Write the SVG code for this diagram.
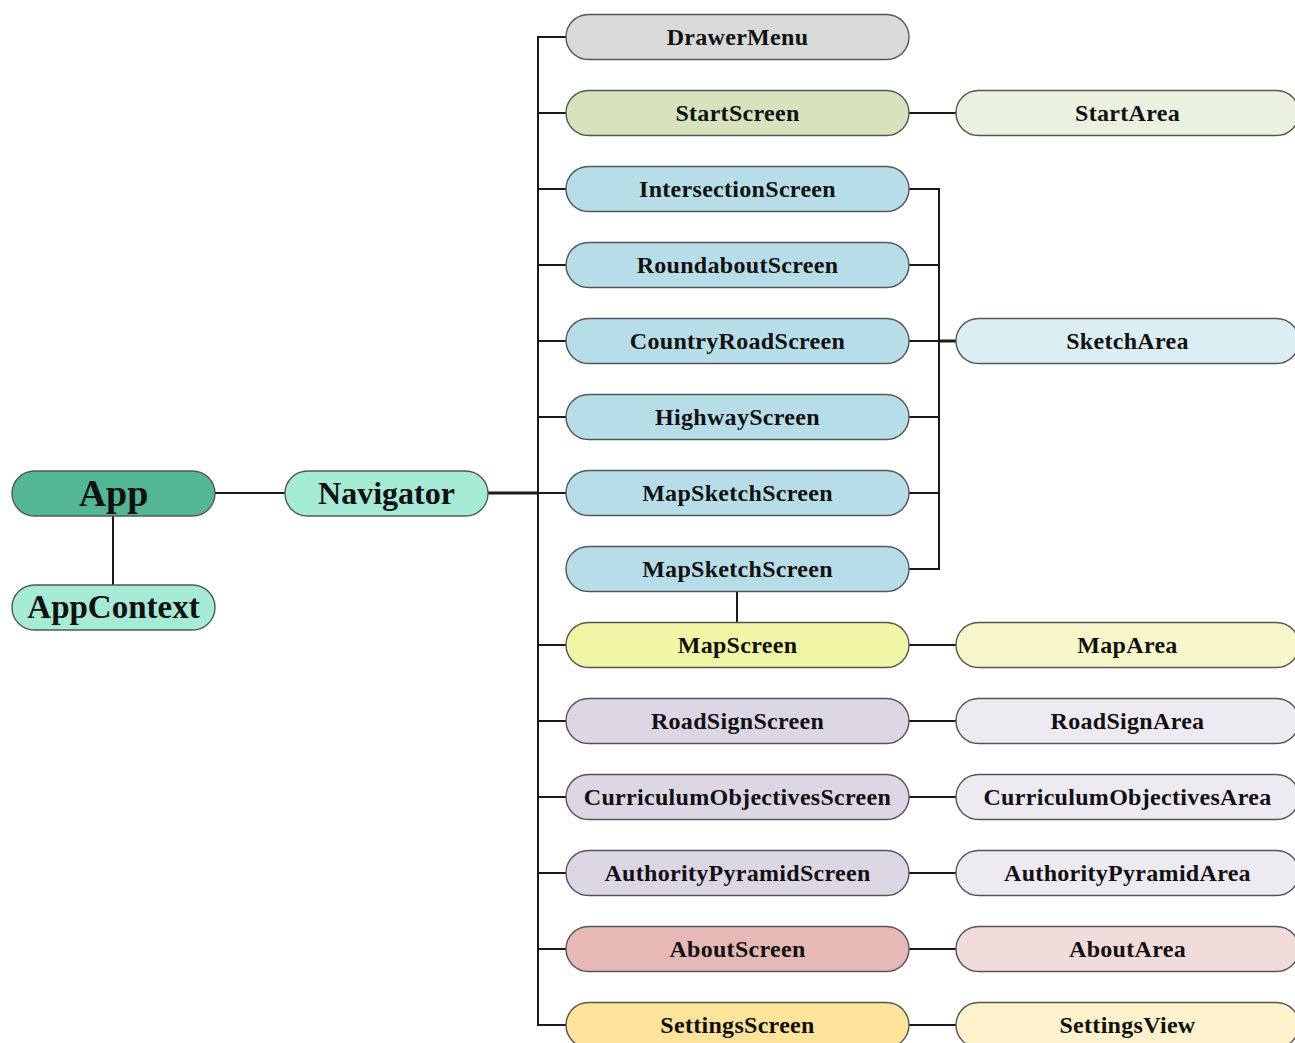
<svg xmlns="http://www.w3.org/2000/svg" width="1295" height="1043" viewBox="0 0 1295 1043">
  <style>
    .node rect { stroke: #555555; stroke-width: 1.4; }
    .node text { font-family: "Liberation Serif", "Times New Roman", serif; font-weight: bold; fill: #111111; text-anchor: middle; }
    .lbl { font-size: 24px; letter-spacing: 0.3px; }
    .wire { stroke: #1a1a1a; stroke-width: 2; fill: none; }
    .thick { stroke-width: 3; }
  </style>
  <rect width="1295" height="1043" fill="#ffffff"/>

  <!-- connectors -->
  <g id="connectors">
    <!-- App to Navigator and AppContext -->
    <line class="wire" x1="215" y1="493" x2="285" y2="493"/>
    <line class="wire" x1="113" y1="516" x2="113" y2="585"/>
    <!-- Navigator to main trunk -->
    <line class="wire thick" x1="488" y1="493" x2="538" y2="493"/>
    <!-- main trunk with branches to each screen -->
    <path class="wire" d="M566 37 H538 V1025 H566"/>
    <line class="wire" x1="538" y1="113" x2="566" y2="113"/>
    <line class="wire" x1="538" y1="189" x2="566" y2="189"/>
    <line class="wire" x1="538" y1="265" x2="566" y2="265"/>
    <line class="wire" x1="538" y1="341" x2="566" y2="341"/>
    <line class="wire" x1="538" y1="417" x2="566" y2="417"/>
    <line class="wire" x1="538" y1="493" x2="566" y2="493"/>
    <line class="wire" x1="538" y1="645" x2="566" y2="645"/>
    <line class="wire" x1="538" y1="721" x2="566" y2="721"/>
    <line class="wire" x1="538" y1="797" x2="566" y2="797"/>
    <line class="wire" x1="538" y1="873" x2="566" y2="873"/>
    <line class="wire" x1="538" y1="949" x2="566" y2="949"/>
    <!-- sketch screens bus to SketchArea -->
    <path class="wire" d="M909 189 H939 V569 H909"/>
    <line class="wire" x1="909" y1="265" x2="939" y2="265"/>
    <line class="wire" x1="909" y1="341" x2="939" y2="341"/>
    <line class="wire" x1="909" y1="417" x2="939" y2="417"/>
    <line class="wire" x1="909" y1="493" x2="939" y2="493"/>
    <line class="wire thick" x1="939" y1="341" x2="956" y2="341"/>
    <!-- MapSketchScreen to MapScreen -->
    <line class="wire" x1="737" y1="592" x2="737" y2="622"/>
    <!-- screens to their areas -->
    <line class="wire" x1="909" y1="113" x2="956" y2="113"/>
    <line class="wire" x1="909" y1="645" x2="956" y2="645"/>
    <line class="wire" x1="909" y1="721" x2="956" y2="721"/>
    <line class="wire" x1="909" y1="797" x2="956" y2="797"/>
    <line class="wire" x1="909" y1="873" x2="956" y2="873"/>
    <line class="wire" x1="909" y1="949" x2="956" y2="949"/>
    <line class="wire" x1="909" y1="1025" x2="956" y2="1025"/>
  </g>

  <!-- root -->
  <g id="app" class="node">
    <rect x="12" y="471" width="203" height="45" rx="22.5" fill="#53b794"/>
    <text x="113.5" y="506" font-size="38">App</text>
  </g>
  <g id="appcontext" class="node">
    <rect x="12" y="585" width="203" height="45" rx="22.5" fill="#a6ebd6"/>
    <text x="113.5" y="618" font-size="33">AppContext</text>
  </g>
  <g id="navigator" class="node">
    <rect x="285" y="471" width="203" height="45" rx="22.5" fill="#a6ebd6"/>
    <text x="386.5" y="504" font-size="32">Navigator</text>
  </g>

  <!-- screens -->
  <g id="drawermenu" class="node">
    <rect x="566" y="14.5" width="343" height="45" rx="22.5" fill="#d9d9d9"/>
    <text class="lbl" x="737.5" y="45">DrawerMenu</text>
  </g>
  <g id="startscreen" class="node">
    <rect x="566" y="90.5" width="343" height="45" rx="22.5" fill="#d7e3bd"/>
    <text class="lbl" x="737.5" y="121">StartScreen</text>
  </g>
  <g id="intersectionscreen" class="node">
    <rect x="566" y="166.5" width="343" height="45" rx="22.5" fill="#b7dde8"/>
    <text class="lbl" x="737.5" y="197">IntersectionScreen</text>
  </g>
  <g id="roundaboutscreen" class="node">
    <rect x="566" y="242.5" width="343" height="45" rx="22.5" fill="#b7dde8"/>
    <text class="lbl" x="737.5" y="273">RoundaboutScreen</text>
  </g>
  <g id="countryroadscreen" class="node">
    <rect x="566" y="318.5" width="343" height="45" rx="22.5" fill="#b7dde8"/>
    <text class="lbl" x="737.5" y="349">CountryRoadScreen</text>
  </g>
  <g id="highwayscreen" class="node">
    <rect x="566" y="394.5" width="343" height="45" rx="22.5" fill="#b7dde8"/>
    <text class="lbl" x="737.5" y="425">HighwayScreen</text>
  </g>
  <g id="mapsketchscreen1" class="node">
    <rect x="566" y="470.5" width="343" height="45" rx="22.5" fill="#b7dde8"/>
    <text class="lbl" x="737.5" y="501">MapSketchScreen</text>
  </g>
  <g id="mapsketchscreen2" class="node">
    <rect x="566" y="546.5" width="343" height="45" rx="22.5" fill="#b7dde8"/>
    <text class="lbl" x="737.5" y="577">MapSketchScreen</text>
  </g>
  <g id="mapscreen" class="node">
    <rect x="566" y="622.5" width="343" height="45" rx="22.5" fill="#f1f6a6"/>
    <text class="lbl" x="737.5" y="653">MapScreen</text>
  </g>
  <g id="roadsignscreen" class="node">
    <rect x="566" y="698.5" width="343" height="45" rx="22.5" fill="#ddd6e5"/>
    <text class="lbl" x="737.5" y="729">RoadSignScreen</text>
  </g>
  <g id="curriculumobjectivesscreen" class="node">
    <rect x="566" y="774.5" width="343" height="45" rx="22.5" fill="#ddd6e5"/>
    <text class="lbl" x="737.5" y="805">CurriculumObjectivesScreen</text>
  </g>
  <g id="authoritypyramidscreen" class="node">
    <rect x="566" y="850.5" width="343" height="45" rx="22.5" fill="#ddd6e5"/>
    <text class="lbl" x="737.5" y="881">AuthorityPyramidScreen</text>
  </g>
  <g id="aboutscreen" class="node">
    <rect x="566" y="926.5" width="343" height="45" rx="22.5" fill="#e6b8b6"/>
    <text class="lbl" x="737.5" y="957">AboutScreen</text>
  </g>
  <g id="settingsscreen" class="node">
    <rect x="566" y="1002.5" width="343" height="45" rx="22.5" fill="#fee39b"/>
    <text class="lbl" x="737.5" y="1033">SettingsScreen</text>
  </g>

  <!-- areas -->
  <g id="startarea" class="node">
    <rect x="956" y="90.5" width="343" height="45" rx="22.5" fill="#ebf1df"/>
    <text class="lbl" x="1127.5" y="121">StartArea</text>
  </g>
  <g id="sketcharea" class="node">
    <rect x="956" y="318.5" width="343" height="45" rx="22.5" fill="#dbeef4"/>
    <text class="lbl" x="1127.5" y="349">SketchArea</text>
  </g>
  <g id="maparea" class="node">
    <rect x="956" y="622.5" width="343" height="45" rx="22.5" fill="#f7f7c9"/>
    <text class="lbl" x="1127.5" y="653">MapArea</text>
  </g>
  <g id="roadsignarea" class="node">
    <rect x="956" y="698.5" width="343" height="45" rx="22.5" fill="#edeaf2"/>
    <text class="lbl" x="1127.5" y="729">RoadSignArea</text>
  </g>
  <g id="curriculumobjectivesarea" class="node">
    <rect x="956" y="774.5" width="343" height="45" rx="22.5" fill="#edeaf2"/>
    <text class="lbl" x="1127.5" y="805">CurriculumObjectivesArea</text>
  </g>
  <g id="authoritypyramidarea" class="node">
    <rect x="956" y="850.5" width="343" height="45" rx="22.5" fill="#edeaf2"/>
    <text class="lbl" x="1127.5" y="881">AuthorityPyramidArea</text>
  </g>
  <g id="aboutarea" class="node">
    <rect x="956" y="926.5" width="343" height="45" rx="22.5" fill="#f2dcdb"/>
    <text class="lbl" x="1127.5" y="957">AboutArea</text>
  </g>
  <g id="settingsview" class="node">
    <rect x="956" y="1002.5" width="343" height="45" rx="22.5" fill="#fff2cc"/>
    <text class="lbl" x="1127.5" y="1033">SettingsView</text>
  </g>
</svg>
